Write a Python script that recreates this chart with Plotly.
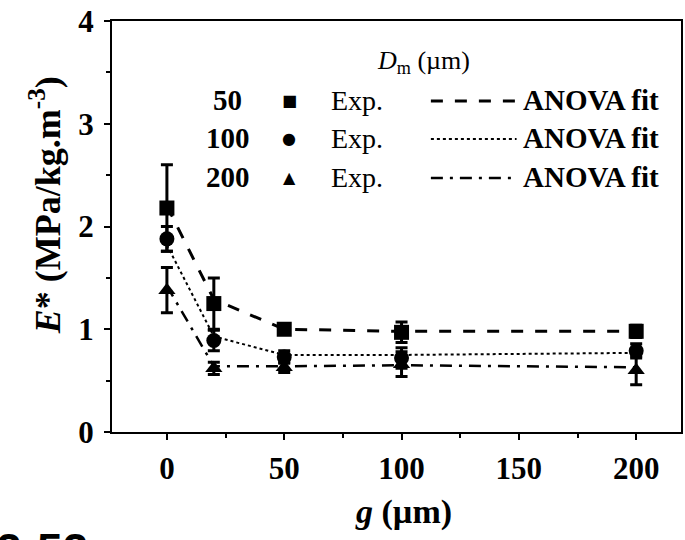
import plotly.graph_objects as go

# Gap size g (µm) at which the specimens were measured
g_um = [0, 20, 50, 100, 200]

# Specific modulus E* (MPa/kg.m^-3), experiments, one list per mean pore size
exp_50 = [2.18, 1.25, 1.00, 0.97, 0.98]
err_50 = [0.42, 0.25, 0.05, 0.10, 0.06]
exp_100 = [1.88, 0.89, 0.73, 0.72, 0.79]
err_100 = [0.12, 0.10, 0.06, 0.10, 0.07]
exp_200 = [1.38, 0.62, 0.63, 0.66, 0.60]
err_200 = [0.22, 0.06, 0.05, 0.12, 0.14]

# ANOVA model predictions at the same gaps
fit_50 = [2.20, 1.29, 1.00, 0.98, 0.98]
fit_100 = [1.82, 0.93, 0.75, 0.75, 0.77]
fit_200 = [1.42, 0.64, 0.64, 0.65, 0.63]

sizes = ["50", "100", "200"]
symbols = ["square", "circle", "triangle-up"]
glyphs = ["\u25A0", "\u25CF", "\u25B2"]
dashes = ["12px,12px", "dot", "12px,7px,3px,7px"]
fit_widths = [3, 2, 2.5]

FONT = "Liberation Serif"
INK = "black"

fig = go.Figure()

for fit, dash, w in zip([fit_50, fit_100, fit_200], dashes, fit_widths):
    fig.add_trace(go.Scatter(
        x=g_um, y=fit, mode="lines",
        line=dict(color=INK, width=w, dash=dash),
        showlegend=False, hoverinfo="skip",
    ))

for ys, errs, sym in zip([exp_50, exp_100, exp_200], [err_50, err_100, err_200], symbols):
    fig.add_trace(go.Scatter(
        x=g_um, y=ys, mode="markers",
        marker=dict(symbol=sym, size=15, color=INK, line=dict(width=0)),
        error_y=dict(type="data", array=errs, visible=True,
                     color=INK, thickness=3, width=6),
        showlegend=False,
    ))

# Plot-area geometry in pixels, used to place the hand-built key
L, R, T, B = 112, 683, 21, 432
W, H = R - L, B - T


def px(x):
    return (x - L) / W


def py(y):
    return (B - y) / H


def note(x, y, text, size, family=FONT, xanchor="center", yanchor="middle", **kw):
    return dict(x=px(x), y=py(y), xref="paper", yref="paper", text=text,
                showarrow=False, xanchor=xanchor, yanchor=yanchor,
                font=dict(family=family, size=size, color=INK), **kw)


annotations = []
shapes = []

# Key header
annotations.append(note(425, 62, "<i>D</i><sub>m</sub> (µm)", 26))

row_y = [100, 138, 177]
for label, glyph, dash, w, yy in zip(sizes, glyphs, dashes, fit_widths, row_y):
    annotations.append(note(228, yy, f"<b>{label}</b>", 29))
    annotations.append(note(290, yy, glyph, 16, family="DejaVu Sans"))
    annotations.append(note(358, yy, "Exp.", 28))
    annotations.append(note(522, yy, "<b>ANOVA fit</b>", 29, xanchor="left"))
    shapes.append(dict(
        type="line", xref="paper", yref="paper",
        x0=px(432), x1=px(518), y0=py(yy + 1), y1=py(yy + 1),
        line=dict(color=INK, width=w, dash=dash),
    ))

# Axis titles
annotations.append(note(45, 205, "<b><i>E</i>* (MPa/kg.m<sup>-3</sup>)</b>", 36,
                        textangle=-90))
annotations.append(note(405, 512, "<b><i>g</i> (µm)</b>", 34))

# Panel caption, mostly below the page edge
annotations.append(note(-6, 522, "<b>2-52</b>", 46, family="Liberation Sans",
                        xanchor="left", yanchor="top"))

axis_common = dict(
    showgrid=False, zeroline=False, showline=True, linecolor=INK, linewidth=2,
    mirror=True, ticks="outside", ticklen=6, tickwidth=2, tickcolor=INK,
    tickfont=dict(family=FONT, size=31, color=INK),
)

fig.update_layout(
    width=685, height=540,
    margin=dict(l=L, r=685 - R, t=T, b=540 - B),
    paper_bgcolor="white", plot_bgcolor="white",
    xaxis=dict(range=[-23.4, 219.1], tickvals=[0, 50, 100, 150, 200],
               ticktext=["<b>0</b>", "<b>50</b>", "<b>100</b>", "<b>150</b>", "<b>200</b>"],
               minor=dict(tickvals=[25, 75, 125, 175], ticks="outside", ticklen=4,
                          tickwidth=2, tickcolor=INK),
               ticklabelstandoff=2, **axis_common),
    yaxis=dict(range=[0, 4], tickvals=[0, 1, 2, 3, 4],
               ticktext=["<b>0</b>", "<b>1</b>", "<b>2</b>", "<b>3</b>", "<b>4</b>"],
               minor=dict(tickvals=[0.5, 1.5, 2.5, 3.5], ticks="outside", ticklen=4,
                          tickwidth=2, tickcolor=INK),
               ticklabelstandoff=4, **axis_common),
    annotations=annotations, shapes=shapes,
    showlegend=False,
)

fig.write_html("out.html")
